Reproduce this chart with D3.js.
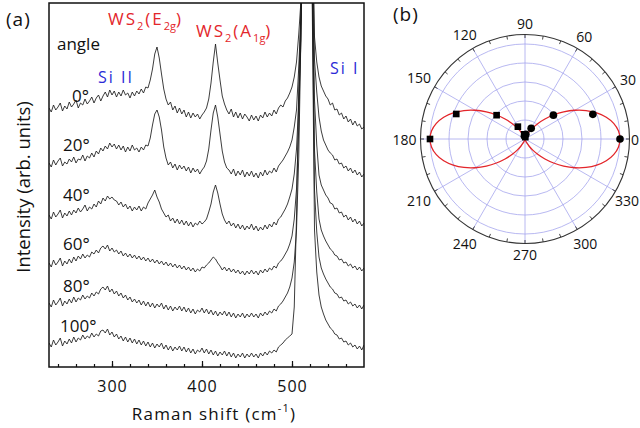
<!DOCTYPE html>
<html>
<head>
<meta charset="utf-8">
<script src="https://cdn.jsdelivr.net/npm/d3@7/dist/d3.min.js"></script>
<style>
  body { margin: 0; background: #fff; }
  svg { display: block; font-family: "Open Sans", "Noto Sans", sans-serif; }
</style>
</head>
<body>
<div class="container"></div>
<script>
// ---- data ----
// (a) Raman spectra, stacked, arbitrary intensity units, sampled every 2.5 cm-1 from 230 to 580
const shift = d3.range(230, 581, 2.5);
const angleLabels = ["0°", "20°", "40°", "60°", "80°", "100°"];
const spec0 = [
  259,255,262,257,260,264,256,261,258,265,
  260,263,267,259,264,262,268,263,266,270,
  264,269,272,266,271,275,270,277,272,276,
  270,275,271,277,272,274,269,275,271,276,
  273,278,274,280,279,287,298,313,320,309,
  293,278,268,262,265,257,261,254,259,253,
  257,250,255,249,254,250,253,248,252,255,
  259,268,284,305,323,304,287,271,263,257,
  253,258,250,255,249,254,248,253,250,246,
  252,247,251,246,252,249,255,250,254,251,
  257,253,259,262,260,266,269,274,280,290,
  305,333,367,500,700,700,700,460,330,305,
  290,281,276,271,268,262,264,257,258,252,
  254,248,251,245,248,242,246,241,243,238,
  240];
const spec20 = [
  204,200,207,202,206,209,201,205,203,208,
  205,210,204,208,207,212,206,211,209,214,
  210,216,213,219,216,221,218,224,220,223,
  218,222,217,221,215,220,216,222,217,219,
  215,220,217,222,221,229,242,253,257,250,
  237,220,209,202,205,199,203,197,202,198,
  201,196,200,194,199,195,198,193,197,200,
  206,218,237,254,262,250,233,216,205,199,
  197,193,198,191,196,192,197,190,195,191,
  196,190,194,189,195,191,197,192,196,194,
  199,195,201,204,207,211,215,220,227,240,
  257,300,352,520,700,700,700,440,307,275,
  250,236,227,222,217,214,212,207,208,203,
  204,199,201,196,199,194,197,192,195,190,
  193];
const spec40 = [
  152,148,155,150,153,157,149,154,151,156,
  152,157,154,159,155,158,162,156,160,158,
  163,160,166,163,169,166,171,168,170,167,
  166,162,165,160,163,158,161,156,160,157,
  161,156,160,158,164,168,172,177,170,165,
  158,154,150,152,146,149,144,148,143,147,
  142,146,141,145,140,144,142,146,143,145,
  148,155,163,175,182,174,163,153,147,143,
  146,141,144,139,143,138,142,137,141,138,
  143,137,141,136,140,137,142,138,143,140,
  145,142,148,150,154,158,163,170,178,193,
  218,265,327,500,700,700,700,420,267,222,
  192,182,177,172,169,164,163,158,159,154,
  155,150,152,147,150,145,148,143,146,141,
  144];
const spec60 = [
  104,100,107,102,105,109,101,106,103,108,
  104,110,106,111,108,113,109,112,110,115,
  113,117,114,119,121,118,122,116,119,115,
  117,113,116,111,114,110,113,109,112,108,
  111,107,110,106,109,105,108,104,107,103,
  106,102,105,101,104,100,103,99,102,98,
  101,97,100,96,99,95,98,96,100,99,
  102,104,107,110,108,104,101,97,100,96,
  99,95,98,94,97,93,96,92,96,93,
  97,93,96,92,97,94,98,95,99,97,
  101,99,104,106,109,113,117,123,131,148,
  178,240,347,500,700,700,700,400,217,175,
  148,137,131,126,122,118,116,112,111,107,
  108,104,105,101,103,99,101,97,100,96,
  99];
const spec80 = [
  64,60,67,62,65,69,61,66,63,68,
  64,70,65,69,67,72,68,71,69,74,
  71,75,73,78,80,77,81,75,78,73,
  76,71,74,69,72,67,70,65,68,64,
  67,62,66,61,65,60,64,59,63,60,
  64,58,62,57,61,56,60,57,61,56,
  60,55,59,54,58,53,57,55,59,54,
  58,53,57,52,56,51,55,52,56,51,
  55,50,54,49,53,50,54,49,53,50,
  54,50,53,49,54,51,55,52,56,54,
  58,56,61,63,66,70,74,80,89,105,
  137,210,337,500,700,700,700,380,177,135,
  110,99,93,88,84,80,78,74,73,69,
  70,66,67,63,65,61,63,59,62,58,
  62];
const spec100 = [
  24,20,27,22,25,29,21,26,23,28,
  24,30,25,29,27,32,28,31,29,34,
  30,33,31,36,37,34,38,32,35,30,
  33,28,31,26,30,25,29,24,28,23,
  27,22,26,21,25,20,24,19,23,20,
  24,18,22,17,21,16,20,17,21,16,
  20,15,19,14,18,13,17,15,19,14,
  18,13,17,12,16,11,15,12,16,11,
  15,10,14,9,13,10,14,9,13,10,
  14,10,13,9,14,11,15,12,16,14,
  17,15,20,22,24,27,29,31,33,60,
  150,280,360,500,700,700,700,360,137,95,
  72,60,53,47,43,39,37,33,32,28,
  29,25,26,22,24,20,22,18,21,17,
  22];
const spectra = [spec0, spec20, spec40, spec60, spec80, spec100];
const xTicks = [300, 400, 500];

// (b) polar plot, normalised intensity
const circleAngle = [0, 20, 40, 60, 80, 100];
const circleR = [1.0, 0.76, 0.39, 0.13, 0.05, 0.03];
const squareAngle = [180, 160, 140, 120, 100, 80];
const squareR = [1.0, 0.77, 0.39, 0.15, 0.05, 0.02];
// fitted curve, first quadrant (0..90 deg, every 5 deg); the lobes are symmetric
const fitAngle = d3.range(0, 95, 5);
const fitR = [1.0,0.987,0.948,0.886,0.804,0.709,0.605,0.497,0.393,0.297,
  0.213,0.143,0.088,0.049,0.025,0.009,0.002,0.0,0.0];
const polarTicks = d3.range(0, 360, 30);
const ringValues = [0.2, 0.4, 0.6, 0.8, 1.0];

// ---- layout ----
const WIDTH = 640, HEIGHT = 428;
const FRAME = { left: 49, right: 364, top: 3, bottom: 367 };
const RED = "#e3262b", BLUE = "#2a2ad6", GRID = "#a6a6ee";

const xScale = d3.scaleLinear().domain([230, 580]).range([FRAME.left, FRAME.right]);
const yScale = d3.scaleLinear().domain([0, 364]).range([FRAME.bottom, FRAME.top]);

const svg = d3.select(".container").append("svg")
  .attr("viewBox", [0, 0, WIDTH, HEIGHT])
  .attr("width", WIDTH)
  .attr("height", HEIGHT);

drawSpectra();
drawPolar();

function drawSpectra() {
  svg.append("clipPath").attr("id", "frame-clip")
    .append("rect")
    .attr("x", FRAME.left).attr("y", FRAME.top)
    .attr("width", FRAME.right - FRAME.left)
    .attr("height", FRAME.bottom - FRAME.top);

  const line = d3.line()
    .x((d, i) => xScale(shift[i]))
    .y((d) => yScale(d));

  svg.append("g")
    .attr("clip-path", "url(#frame-clip)")
    .attr("fill", "none")
    .attr("stroke", "#1a1a1a")
    .attr("stroke-width", 0.85)
    .attr("stroke-linejoin", "round")
    .selectAll("path")
    .data(spectra)
    .join("path")
    .attr("d", line);

  // ticks point inward
  svg.append("g")
    .attr("transform", `translate(0,${FRAME.bottom})`)
    .call(d3.axisBottom(xScale).tickValues(d3.range(240, 580, 20)).tickSize(-3).tickFormat("").tickSizeOuter(0))
    .call((g) => g.select(".domain").remove())
    .call((g) => g.selectAll("line").attr("stroke", "#111").attr("stroke-width", 1.2));
  svg.append("g")
    .attr("transform", `translate(0,${FRAME.bottom})`)
    .call(d3.axisBottom(xScale).tickValues(xTicks).tickSize(-6).tickPadding(14).tickSizeOuter(0))
    .call((g) => g.select(".domain").remove())
    .call((g) => g.selectAll("line").attr("stroke", "#111").attr("stroke-width", 1.2))
    .call((g) => g.selectAll("text")
      .attr("font-family", "Open Sans, sans-serif")
      .attr("font-size", 16)
      .attr("letter-spacing", 1)
      .attr("fill", "#111"));

  svg.append("rect")
    .attr("x", FRAME.left).attr("y", FRAME.top)
    .attr("width", FRAME.right - FRAME.left)
    .attr("height", FRAME.bottom - FRAME.top)
    .attr("fill", "none")
    .attr("stroke", "#111")
    .attr("stroke-width", 1.5);

  // axis titles
  const xt = svg.append("text")
    .attr("x", 214).attr("y", 420)
    .attr("text-anchor", "middle")
    .attr("font-size", 17)
    .attr("letter-spacing", 1.2)
    .attr("fill", "#111")
    .text("Raman shift (cm");
  xt.append("tspan").attr("font-size", 11).attr("dy", -8).text("-1");
  xt.append("tspan").attr("dy", 8).text(")");

  svg.append("text")
    .attr("transform", "translate(30,187) rotate(-90)")
    .attr("text-anchor", "middle")
    .attr("font-size", 18.5)
    .attr("fill", "#111")
    .text("Intensity (arb. units)");

  svg.append("text").attr("x", 6).attr("y", 26)
    .attr("font-size", 19).attr("letter-spacing", 1).attr("fill", "#111").text("(a)");

  svg.append("text").attr("x", 57).attr("y", 50)
    .attr("font-size", 17).attr("fill", "#111").text("angle");

  const labelPos = [[72, 102], [63, 151], [63, 201], [63, 250], [63, 292], [60, 332]];
  svg.append("g")
    .attr("font-size", 17)
    .attr("fill", "#111")
    .selectAll("text")
    .data(angleLabels)
    .join("text")
    .attr("x", (d, i) => labelPos[i][0])
    .attr("y", (d, i) => labelPos[i][1])
    .text((d) => d);

  // peak names
  peakLabel(108, 25, "WS", "2", "(E", "2g", ")");
  peakLabel(196, 37, "WS", "2", "(A", "1g", ")");

  svg.append("text").attr("x", 98).attr("y", 83)
    .attr("font-size", 16).attr("letter-spacing", 2).attr("fill", BLUE).text("Si II");
  svg.append("text").attr("x", 330).attr("y", 74)
    .attr("font-size", 16).attr("letter-spacing", 2).attr("fill", BLUE).text("Si I");
}

function peakLabel(x, y, a, sub1, b, sub2, c) {
  const t = svg.append("text")
    .attr("x", x).attr("y", y)
    .attr("font-size", 17)
    .attr("letter-spacing", 2)
    .attr("fill", RED)
    .text(a);
  t.append("tspan").attr("font-size", 11).attr("dy", 5).text(sub1);
  t.append("tspan").attr("dy", -5).text(b);
  t.append("tspan").attr("font-size", 11).attr("dy", 5).attr("letter-spacing", 0).text(sub2);
  t.append("tspan").attr("dy", -5).text(c);
}

function drawPolar() {
  const cx = 525, cy = 139;
  const rScale = d3.scaleLinear().domain([0, 1.1]).range([0, 104.5]);
  const rad = (a) => a * Math.PI / 180;
  const px = (a, r) => cx + rScale(r) * Math.cos(rad(a));
  const py = (a, r) => cy - rScale(r) * Math.sin(rad(a));

  const g = svg.append("g");

  g.append("g")
    .attr("fill", "none")
    .attr("stroke", GRID)
    .attr("stroke-width", 0.8)
    .selectAll("circle")
    .data(ringValues)
    .join("circle")
    .attr("cx", cx).attr("cy", cy)
    .attr("r", (d) => rScale(d));

  g.append("g")
    .attr("stroke", GRID)
    .attr("stroke-width", 0.8)
    .selectAll("line")
    .data(polarTicks)
    .join("line")
    .attr("x1", cx).attr("y1", cy)
    .attr("x2", (d) => px(d, 1.1))
    .attr("y2", (d) => py(d, 1.1));

  g.append("circle")
    .attr("cx", cx).attr("cy", cy).attr("r", rScale(1.1))
    .attr("fill", "none").attr("stroke", "#333").attr("stroke-width", 1.1);

  g.append("g")
    .attr("stroke", "#333")
    .attr("stroke-width", 0.9)
    .selectAll("line")
    .data(d3.range(0, 360, 10))
    .join("line")
    .attr("x1", (d) => px(d, 1.1)).attr("y1", (d) => py(d, 1.1))
    .attr("x2", (d) => px(d, 1.1) - 3.5 * Math.cos(rad(d)))
    .attr("y2", (d) => py(d, 1.1) + 3.5 * Math.sin(rad(d)));

  // angle labels just outside the rim, kept inside the page on the right
  const halfW = (d) => String(d).length * 4;
  const labelOffset = (d) => 4 + halfW(d) * Math.abs(Math.cos(rad(d))) + 7 * Math.abs(Math.sin(rad(d)));
  g.append("g")
    .attr("font-size", 14)
    .attr("fill", "#111")
    .attr("text-anchor", "middle")
    .attr("dominant-baseline", "central")
    .selectAll("text")
    .data(polarTicks)
    .join("text")
    .attr("x", (d) => Math.min(cx + (rScale(1.1) + labelOffset(d)) * Math.cos(rad(d)), WIDTH - 1 - halfW(d)))
    .attr("y", (d) => cy - (rScale(1.1) + labelOffset(d)) * Math.sin(rad(d)))
    .text((d) => d);

  // fit curve: mirror the first quadrant to all four
  const curve = [];
  fitAngle.forEach((a, i) => curve.push([a, fitR[i]]));
  for (let i = fitAngle.length - 2; i >= 0; i--) curve.push([180 - fitAngle[i], fitR[i]]);
  for (let i = 1; i < fitAngle.length; i++) curve.push([180 + fitAngle[i], fitR[i]]);
  for (let i = fitAngle.length - 2; i > 0; i--) curve.push([360 - fitAngle[i], fitR[i]]);

  g.append("path")
    .datum(curve)
    .attr("fill", "none")
    .attr("stroke", RED)
    .attr("stroke-width", 1.3)
    .attr("d", d3.line()
      .x((d) => px(d[0], d[1]))
      .y((d) => py(d[0], d[1]))
      .curve(d3.curveCatmullRomClosed));

  g.append("g")
    .attr("fill", "#000")
    .selectAll("path")
    .data(squareAngle)
    .join("path")
    .attr("transform", (d, i) => `translate(${px(d, squareR[i])},${py(d, squareR[i])})`)
    .attr("d", d3.symbol(d3.symbolSquare, 44));

  g.append("g")
    .attr("fill", "#000")
    .selectAll("path")
    .data(circleAngle)
    .join("path")
    .attr("transform", (d, i) => `translate(${px(d, circleR[i])},${py(d, circleR[i])})`)
    .attr("d", d3.symbol(d3.symbolCircle, 46));

  svg.append("text").attr("x", 393).attr("y", 21)
    .attr("font-size", 19).attr("letter-spacing", 1).attr("fill", "#111").text("(b)");
}
</script>
</body>
</html>
